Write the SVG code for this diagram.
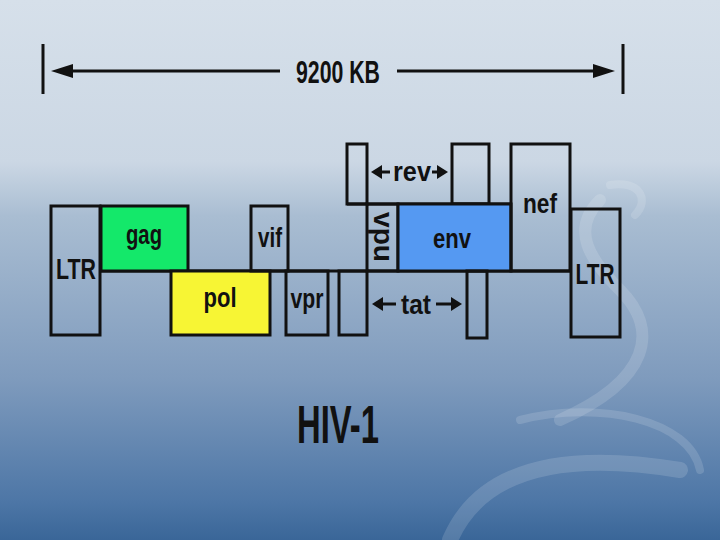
<svg xmlns="http://www.w3.org/2000/svg" width="720" height="540" viewBox="0 0 720 540">
<defs>
<linearGradient id="bg" x1="0" y1="0" x2="0" y2="1">
<stop offset="0" stop-color="#d6e0ea"/>
<stop offset="0.3" stop-color="#cbd7e4"/>
<stop offset="0.4" stop-color="#a9bdd2"/>
<stop offset="0.7" stop-color="#7f9bbd"/>
<stop offset="0.93" stop-color="#4d76a6"/>
<stop offset="1" stop-color="#3a6698"/>
</linearGradient>
<style>
.box{fill:none;stroke:#111;stroke-width:3}
.lbl{font-family:"Liberation Sans",Arial,sans-serif;font-weight:bold;fill:#111;text-anchor:middle}
.ln{stroke:#111;stroke-width:3;fill:none}
.ah{fill:#111}
.swirl{fill:none;stroke:#ffffff;stroke-opacity:0.14;stroke-linecap:round}
</style>
</defs>
<rect width="720" height="540" fill="url(#bg)"/>
<g id="decor">
<path class="swirl" stroke-width="12" d="M600 200 C570 230 590 260 620 290 C660 330 650 380 560 420"/>
<path class="swirl" stroke-width="8" d="M520 420 C600 400 690 420 700 470"/>
<path class="swirl" stroke-width="16" d="M450 540 C480 470 560 450 680 470"/>
<path class="swirl" stroke-width="8" d="M610 185 C640 180 650 200 635 215"/>
</g>
<g id="connectors">
<line class="ln" x1="43" y1="44" x2="43" y2="94"/>
<line class="ln" x1="623" y1="44" x2="623" y2="94"/>
<line class="ln" x1="60" y1="71" x2="280" y2="71"/>
<polygon class="ah" points="51,71 73,64 73,78"/>
<line class="ln" x1="397" y1="71" x2="605" y2="71"/>
<polygon class="ah" points="615,71 593,64 593,78"/>
<line class="ln" x1="347" y1="204" x2="511" y2="204"/>
<line class="ln" x1="101" y1="271" x2="571" y2="271"/>
</g>
<g id="scale"><text class="lbl" x="338" y="83" font-size="31" textLength="84" lengthAdjust="spacingAndGlyphs">9200 KB</text></g>
<g id="ltr1"><rect class="box" x="51" y="206" width="49" height="129"/><text class="lbl" x="76" y="279" font-size="29" textLength="40" lengthAdjust="spacingAndGlyphs">LTR</text></g>
<g id="gag"><rect class="box" x="101" y="206" width="87" height="65" style="fill:#14e86a"/><text class="lbl" x="144" y="244" font-size="28" textLength="36" lengthAdjust="spacingAndGlyphs">gag</text></g>
<g id="pol"><rect class="box" x="171" y="271" width="99" height="64" style="fill:#f7f534"/><text class="lbl" x="220" y="307" font-size="28" textLength="33" lengthAdjust="spacingAndGlyphs">pol</text></g>
<g id="vif"><rect class="box" x="251" y="206" width="37" height="65"/><text class="lbl" x="270" y="247" font-size="28" textLength="24" lengthAdjust="spacingAndGlyphs">vif</text></g>
<g id="vpr"><rect class="box" x="286" y="271" width="42" height="64"/><text class="lbl" x="307" y="308" font-size="28" textLength="33" lengthAdjust="spacingAndGlyphs">vpr</text></g>
<g id="exon1"><rect class="box" x="339" y="271" width="28" height="64"/></g>
<g id="rev1"><rect class="box" x="347" y="144" width="20" height="60"/></g>
<g id="rev"><line class="ln" x1="380" y1="172" x2="390" y2="172"/><polygon class="ah" points="371,172 382,165 382,179"/><line class="ln" x1="432" y1="172" x2="441" y2="172"/><polygon class="ah" points="448,172 437,165 437,179"/><text class="lbl" x="412" y="181" font-size="28" textLength="38" lengthAdjust="spacingAndGlyphs">rev</text></g>
<g id="rev2"><rect class="box" x="452" y="144" width="37" height="60"/></g>
<g id="vpu"><rect class="box" x="367" y="204" width="31" height="67"/><text class="lbl" transform="translate(374,237) rotate(90)" x="0" y="0" font-size="28" textLength="50" lengthAdjust="spacingAndGlyphs">vpu</text></g>
<g id="env"><rect class="box" x="398" y="204" width="113" height="67" style="fill:#5599f2"/><text class="lbl" x="452" y="248" font-size="28" textLength="38" lengthAdjust="spacingAndGlyphs">env</text></g>
<g id="nef"><rect class="box" x="511" y="144" width="59" height="127"/><text class="lbl" x="540" y="213" font-size="28" textLength="34" lengthAdjust="spacingAndGlyphs">nef</text></g>
<g id="ltr2"><rect class="box" x="571" y="209" width="49" height="128"/><text class="lbl" x="595" y="284" font-size="29" textLength="39" lengthAdjust="spacingAndGlyphs">LTR</text></g>
<g id="tat"><line class="ln" x1="381" y1="304" x2="396" y2="304"/><polygon class="ah" points="372,304 383,297 383,311"/><line class="ln" x1="436" y1="304" x2="452" y2="304"/><polygon class="ah" points="462,304 451,297 451,311"/><text class="lbl" x="416" y="314" font-size="28" textLength="30" lengthAdjust="spacingAndGlyphs">tat</text></g>
<g id="exon2"><rect class="box" x="467" y="271" width="20" height="67"/></g>
<g id="title"><text class="lbl" x="338" y="443" font-size="53" textLength="82" lengthAdjust="spacingAndGlyphs">HIV-1</text></g>
</svg>
